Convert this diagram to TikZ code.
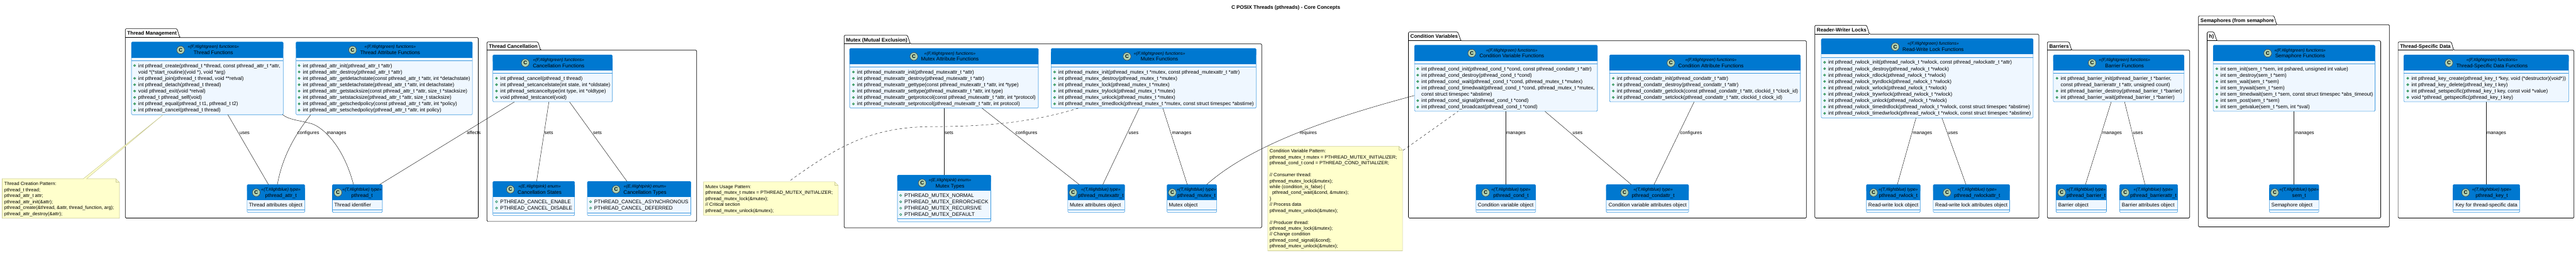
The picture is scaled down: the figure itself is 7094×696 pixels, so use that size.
\documentclass[tikz,border=0pt]{standalone}
\usepackage{fontspec}
\setmainfont{Liberation Sans}
\definecolor{headc}{HTML}{0078D0}
\definecolor{bodyc}{HTML}{EFF7FF}
\definecolor{linec}{HTML}{3F9AE0}
\definecolor{notef}{HTML}{FFFFCC}
\definecolor{noted}{HTML}{CCCC99}
\definecolor{circf}{HTML}{ADD1B2}
\definecolor{pubf}{HTML}{84BE84}
\definecolor{pubd}{HTML}{038048}
\definecolor{conn}{HTML}{181818}
\tikzset{
  pkgline/.style={draw=black,line width=1.2pt,rounded corners=2.5pt},
  pkgtitle/.style={anchor=base west,inner sep=0pt,outer sep=0pt,font=\fontsize{14}{16}\selectfont\bfseries},
  klassbox/.style={draw=linec,fill=bodyc,line width=1pt,rounded corners=2.5pt,inner sep=0pt,outer sep=0pt},
  stereo/.style={anchor=base,inner sep=0pt,outer sep=0pt,font=\fontsize{12}{14}\selectfont\itshape},
  ktitle/.style={anchor=base,inner sep=0pt,outer sep=0pt,font=\fontsize{14}{16}\selectfont},
  circ/.style={circle,draw=black!75,fill=circf,line width=1pt,minimum size=21.5pt,inner sep=0pt,outer sep=0pt,font=\fontsize{14}{16}\selectfont\bfseries},
  mtext/.style={anchor=base west,inner sep=0pt,outer sep=0pt,font=\fontsize{14}{16}\selectfont},
  ntext/.style={anchor=base west,inner sep=0pt,outer sep=0pt,font=\fontsize{13}{15}\selectfont},
  clabel/.style={anchor=base west,inner sep=0pt,outer sep=0pt,font=\fontsize{13}{15}\selectfont},
  rel/.style={draw=conn,line width=.8pt},
  reld/.style={draw=conn,line width=.8pt,dash pattern=on 7pt off 7pt},
  notebody/.style={draw=noted,fill=notef,line width=1pt},
  noteanchor/.style={inner sep=0pt,outer sep=0pt,anchor=north west},
}
\newcount\Mc
\newcommand{\pkg}[8]{% name x0 x1 ytop tabr tabe ybody ybot
  \draw[pkgline,fill=white] (#2,#7) -- (#2,#4) -- (#5,#4) -- (#6,#7) -- (#3,#7) -- (#3,#8) -- (#2,#8) -- cycle;
  \draw[draw=black,line width=1.2pt] (#2,#7) -- (#6,#7);
  \node[pkgtitle] (#1) at ({#2+5.5},{#4+17.5}) {\pkgname};
}
\newcommand{\klass}[9]{\def\Kn{#1}\def\Kxa{#2}\def\Kxb{#3}\def\Kya{#4}\def\Kyb{#5}\def\Kyd{#6}\def\Kcx{#7}\def\Ktx{#8}\def\Kk{#9}\klassB}
\newcommand{\klassB}[1]{%
  \pgfmathsetlengthmacro\Kw{\Kxb-\Kxa}\pgfmathsetlengthmacro\Kh{\Kyb-\Kya}%
  \node[klassbox,anchor=north west,minimum width=\Kw,minimum height=\Kh] (\Kn) at (\Kxa,\Kya) {};
  \fill[headc,rounded corners=2.5pt] (\Kxa,\Kya) rectangle (\Kxb,{\Kya+20});
  \fill[headc] (\Kxa,{\Kya+10}) rectangle (\Kxb,{\Kya+43.2});
  \draw[linec,line width=1pt] (\Kxa,\Kyd) -- (\Kxb,\Kyd);
  \node[circ] (\Kn-c) at (\Kcx,{\Kya+22.2}) {C};
  \node[stereo] (\Kn-s) at (\Ktx,{\Kya+17.8}) {\csname st\Kk\endcsname};
  \node[ktitle] (\Kn-t) at (\Ktx,{\Kya+34.7}) {#1};
}
\newcommand{\stF}{«(F,\#lightgreen) functions»}
\newcommand{\stT}{«(T,\#lightblue) type»}
\newcommand{\stE}{«(E,\#lightpink) enum»}
\newcommand{\mstart}[2]{\def\Mx{#1}\pgfmathsetmacro\My{#2+4.7}}
\newcommand{\mnext}{\pgfmathsetmacro\My{\My+17.55}}
\newcommand{\memb}[1]{\global\advance\Mc by 1
  \fill[pubf,draw=pubd,line width=.9pt] ({\Mx-10.3},{\My-5}) circle (2.9pt);
  \node[mtext] (m\the\Mc) at (\Mx,\My) {#1};\mnext}
\newcommand{\fld}[1]{\global\advance\Mc by 1
  \draw[pubd,line width=1pt] ({\Mx-10.3},{\My-5}) circle (2.9pt);
  \node[mtext] (m\the\Mc) at (\Mx,\My) {#1};\mnext}
\newcommand{\cont}[1]{\global\advance\Mc by 1
  \node[mtext] (m\the\Mc) at (\Mx,\My) {#1};\mnext}
\newcommand{\notebox}[5]{% name x0 x1 y0 y1
  \pgfmathsetlengthmacro\Kw{#3-#2}\pgfmathsetlengthmacro\Kh{#5-#4}%
  \draw[notebody] (#2,#4) -- ({#3-10},#4) -- (#3,{#4+10}) -- (#3,#5) -- (#2,#5) -- cycle;
  \draw[noted,line width=1pt] ({#3-10},#4) -- ({#3-10},{#4+10}) -- (#3,{#4+10});
  \node[noteanchor,minimum width=\Kw,minimum height=\Kh] (#1) at (#2,#4) {};
}
\newcommand{\nstart}[2]{\def\Mx{#1}\pgfmathsetmacro\My{#2+4.3}}
\newcommand{\nl}[1]{\global\advance\Mc by 1
  \node[ntext] (m\the\Mc) at (\Mx,\My) {#1};\pgfmathsetmacro\My{\My+16.34}}
\newcommand{\nskip}{\pgfmathsetmacro\My{\My+16.34}}
\newcommand{\clab}[3]{\global\advance\Mc by 1
  \node[clabel] (m\the\Mc) at (#1,369.5) {#3};}
\AtBeginDocument{\catcode`\_=12 \catcode`\&=12 }
\begin{document}
\begin{tikzpicture}[x=1pt,y=-1pt]
\useasboundingbox (0,0) rectangle (7094,696);
\fill[white] (0,0) rectangle (7094,696);
\node[anchor=base,inner sep=0pt,outer sep=0pt,font=\fontsize{14}{16}\selectfont\bfseries] (title) at (3541,25.4) {C POSIX Threads (pthreads) - Core Concepts};

% packages
\def\pkgname{Thread Management}\pkg{p1}{345}{1317}{79}{487.5}{495}{103.4}{600}
\def\pkgname{Thread Cancellation}\pkg{p2}{1341}{1918.5}{115.4}{1481.6}{1488.6}{138}{609.4}
\def\pkgname{Mutex (Mutual Exclusion)}\pkg{p3}{2324.5}{3474.5}{97}{2499}{2506.6}{120.7}{626.8}
\def\pkgname{Condition Variables}\pkg{p4}{3878.6}{4974.6}{88}{4014.8}{4023}{112.3}{600}
\def\pkgname{Reader-Writer Locks}\pkg{p5}{4997.9}{5614.8}{69.7}{5140.5}{5148}{94}{600}
\def\pkgname{Barriers}\pkg{p6}{5638}{6030}{115.4}{5697.9}{5705}{138}{600}
\def\pkgname{Semaphores (from semaphore}\pkg{p7}{6054.3}{6580}{43.5}{6262}{6269.7}{68}{624.5}
\def\pkgname{h)}\pkg{p8}{6078.2}{6556}{88}{6096.6}{6105}{112.3}{600}
\def\pkgname{Thread-Specific Data}\pkg{p9}{6604}{7088.4}{115.4}{6750.5}{6757}{138}{600}

% classes
\klass{tf}{362}{780}{115.4}{315.6}{166.5}{497.4}{587.7}{F}{Thread Functions}
\mstart{381}{180.7}
\memb{int pthread_create(pthread_t *thread, const pthread_attr_t *attr,}
\cont{void *(*start_routine)(void *), void *arg)}
\memb{int pthread_join(pthread_t thread, void **retval)}
\memb{int pthread_detach(pthread_t thread)}
\memb{void pthread_exit(void *retval)}
\memb{pthread_t pthread_self(void)}
\memb{int pthread_equal(pthread_t t1, pthread_t t2)}
\memb{int pthread_cancel(pthread_t thread)}

\klass{taf}{815}{1301}{115.4}{315.6}{166.5}{971}{1074.5}{F}{Thread Attribute Functions}
\mstart{834}{180.7}
\memb{int pthread_attr_init(pthread_attr_t *attr)}
\memb{int pthread_attr_destroy(pthread_attr_t *attr)}
\memb{int pthread_attr_getdetachstate(const pthread_attr_t *attr, int *detachstate)}
\memb{int pthread_attr_setdetachstate(pthread_attr_t *attr, int detachstate)}
\memb{int pthread_attr_getstacksize(const pthread_attr_t *attr, size_t *stacksize)}
\memb{int pthread_attr_setstacksize(pthread_attr_t *attr, size_t stacksize)}
\memb{int pthread_attr_getschedpolicy(const pthread_attr_t *attr, int *policy)}
\memb{int pthread_attr_setschedpolicy(pthread_attr_t *attr, int policy)}

\klass{pat}{680.4}{839.5}{507.8}{584.6}{576.6}{705.6}{773.7}{T}{pthread_attr_t}
\mstart{685.7}{564.6}\cont{Thread attributes object}
\klass{pt}{915.3}{1053}{507.8}{584.6}{576.6}{930.6}{997}{T}{pthread_t}
\mstart{920.6}{564.6}\cont{Thread identifier}

\klass{cf}{1357.3}{1686.4}{151}{280.5}{201.5}{1446.6}{1538.4}{F}{Cancellation Functions}
\mstart{1377.7}{215.7}
\memb{int pthread_cancel(pthread_t thread)}
\memb{int pthread_setcancelstate(int state, int *oldstate)}
\memb{int pthread_setcanceltype(int type, int *oldtype)}
\memb{void pthread_testcancel(void)}

\klass{cs}{1357.3}{1582.4}{499}{593.4}{585.5}{1405.7}{1486}{E}{Cancellation States}
\mstart{1377.7}{555.3}
\fld{PTHREAD_CANCEL_ENABLE}
\fld{PTHREAD_CANCEL_DISABLE}
\klass{cty}{1617.5}{1902.5}{499}{593.4}{585.5}{1696.6}{1776.3}{E}{Cancellation Types}
\mstart{1636.6}{555.3}
\fld{PTHREAD_CANCEL_ASYNCHRONOUS}
\fld{PTHREAD_CANCEL_DEFERRED}

\klass{maf}{2339.8}{2859.4}{133.2}{297.4}{184.2}{2516.6}{2616}{F}{Mutex Attribute Functions}
\mstart{2360.5}{198.4}
\memb{int pthread_mutexattr_init(pthread_mutexattr_t *attr)}
\memb{int pthread_mutexattr_destroy(pthread_mutexattr_t *attr)}
\memb{int pthread_mutexattr_gettype(const pthread_mutexattr_t *attr, int *type)}
\memb{int pthread_mutexattr_settype(pthread_mutexattr_t *attr, int type)}
\memb{int pthread_mutexattr_getprotocol(const pthread_mutexattr_t *attr, int *protocol)}
\memb{int pthread_mutexattr_setprotocol(pthread_mutexattr_t *attr, int protocol)}

\klass{mf}{2894.6}{3459.2}{133.2}{297.4}{184.2}{3103.6}{3193}{F}{Mutex Functions}
\mstart{2914.5}{198.4}
\memb{int pthread_mutex_init(pthread_mutex_t *mutex, const pthread_mutexattr_t *attr)}
\memb{int pthread_mutex_destroy(pthread_mutex_t *mutex)}
\memb{int pthread_mutex_lock(pthread_mutex_t *mutex)}
\memb{int pthread_mutex_trylock(pthread_mutex_t *mutex)}
\memb{int pthread_mutex_unlock(pthread_mutex_t *mutex)}
\memb{int pthread_mutex_timedlock(pthread_mutex_t *mutex, const struct timespec *abstime)}

\klass{mt}{2471.4}{2728.6}{481.6}{610.3}{602.3}{2539.5}{2616}{E}{Mutex Types}
\mstart{2490.6}{538}
\fld{PTHREAD_MUTEX_NORMAL}
\fld{PTHREAD_MUTEX_ERRORCHECK}
\fld{PTHREAD_MUTEX_RECURSIVE}
\fld{PTHREAD_MUTEX_DEFAULT}

\klass{mat}{2940.5}{3097.4}{507.8}{584.6}{576.6}{2955}{3031.6}{T}{pthread_mutexattr_t}
\mstart{2946}{564.6}\cont{Mutex attributes object}
\klass{mot}{3213.8}{3350.5}{507.8}{584.6}{576.6}{3228.3}{3295}{T}{pthread_mutex_t}
\mstart{3219}{564.6}\cont{Mutex object}

\klass{cvf}{3895.4}{4399}{124.3}{306.3}{175.3}{4053}{4163.3}{F}{Condition Variable Functions}
\mstart{3914.5}{189.5}
\memb{int pthread_cond_init(pthread_cond_t *cond, const pthread_condattr_t *attr)}
\memb{int pthread_cond_destroy(pthread_cond_t *cond)}
\memb{int pthread_cond_wait(pthread_cond_t *cond, pthread_mutex_t *mutex)}
\memb{int pthread_cond_timedwait(pthread_cond_t *cond, pthread_mutex_t *mutex,}
\cont{const struct timespec *abstime)}
\memb{int pthread_cond_signal(pthread_cond_t *cond)}
\memb{int pthread_cond_broadcast(pthread_cond_t *cond)}

\klass{caf}{4432.6}{4958}{151}{280.5}{201.5}{4601.5}{4711.8}{F}{Condition Attribute Functions}
\mstart{4453}{215.7}
\memb{int pthread_condattr_init(pthread_condattr_t *attr)}
\memb{int pthread_condattr_destroy(pthread_condattr_t *attr)}
\memb{int pthread_condattr_getclock(const pthread_condattr_t *attr, clockid_t *clock_id)}
\memb{int pthread_condattr_setclock(pthread_condattr_t *attr, clockid_t clock_id)}

\klass{cot}{4064.5}{4229}{507.8}{584.6}{576.6}{4091.3}{4161}{T}{pthread_cond_t}
\mstart{4069.9}{564.6}\cont{Condition variable object}
\klass{cat}{4423.3}{4650.4}{507.8}{584.6}{576.6}{4473.8}{4552.6}{T}{pthread_condattr_t}
\mstart{4429.9}{564.6}\cont{Condition variable attributes object}

\klass{rwf}{5015.3}{5599}{106.5}{324.5}{157.6}{5219.2}{5323.7}{F}{Read-Write Lock Functions}
\mstart{5035}{171.8}
\memb{int pthread_rwlock_init(pthread_rwlock_t *rwlock, const pthread_rwlockattr_t *attr)}
\memb{int pthread_rwlock_destroy(pthread_rwlock_t *rwlock)}
\memb{int pthread_rwlock_rdlock(pthread_rwlock_t *rwlock)}
\memb{int pthread_rwlock_tryrdlock(pthread_rwlock_t *rwlock)}
\memb{int pthread_rwlock_wrlock(pthread_rwlock_t *rwlock)}
\memb{int pthread_rwlock_trywrlock(pthread_rwlock_t *rwlock)}
\memb{int pthread_rwlock_unlock(pthread_rwlock_t *rwlock)}
\memb{int pthread_rwlock_timedrdlock(pthread_rwlock_t *rwlock, const struct timespec *abstime)}
\memb{int pthread_rwlock_timedwrlock(pthread_rwlock_t *rwlock, const struct timespec *abstime)}

\klass{rlt}{5139.6}{5288}{507.8}{584.6}{576.6}{5159.6}{5227.5}{T}{pthread_rwlock_t}
\mstart{5145.4}{564.6}\cont{Read-write lock object}
\klass{rat}{5323.7}{5534.3}{507.8}{584.6}{576.6}{5361.9}{5444.8}{T}{pthread_rwlockattr_t}
\mstart{5329.5}{564.6}\cont{Read-write lock attributes object}

\klass{bf}{5654.6}{6014.7}{151}{280.5}{201.5}{5761.4}{5850.8}{F}{Barrier Functions}
\mstart{5674.9}{215.7}
\memb{int pthread_barrier_init(pthread_barrier_t *barrier,}
\cont{const pthread_barrierattr_t *attr, unsigned count)}
\memb{int pthread_barrier_destroy(pthread_barrier_t *barrier)}
\memb{int pthread_barrier_wait(pthread_barrier_t *barrier)}

\klass{bt}{5662}{5801}{507.8}{584.6}{576.6}{5677.6}{5744.9}{T}{pthread_barrier_t}
\mstart{5668.4}{564.6}\cont{Barrier object}
\klass{bat}{5837}{5997}{507.8}{584.6}{576.6}{5852.6}{5930}{T}{pthread_barrierattr_t}
\mstart{5843.4}{564.6}\cont{Barrier attributes object}

\klass{sf}{6094.8}{6540.5}{124.3}{306.3}{175.3}{6244.9}{6334.2}{F}{Semaphore Functions}
\mstart{6115}{189.5}
\memb{int sem_init(sem_t *sem, int pshared, unsigned int value)}
\memb{int sem_destroy(sem_t *sem)}
\memb{int sem_wait(sem_t *sem)}
\memb{int sem_trywait(sem_t *sem)}
\memb{int sem_timedwait(sem_t *sem, const struct timespec *abs_timeout)}
\memb{int sem_post(sem_t *sem)}
\memb{int sem_getvalue(sem_t *sem, int *sval)}

\klass{st}{6249.5}{6385.8}{507.8}{584.6}{576.6}{6264.2}{6331.4}{T}{sem_t}
\mstart{6255}{564.6}\cont{Semaphore object}

\klass{tsf}{6619.7}{7073.7}{151}{280.5}{201.5}{6744}{6862.8}{F}{Thread-Specific Data Functions}
\mstart{6640.9}{215.7}
\memb{int pthread_key_create(pthread_key_t *key, void (*destructor)(void*))}
\memb{int pthread_key_delete(pthread_key_t key)}
\memb{int pthread_setspecific(pthread_key_t key, const void *value)}
\memb{void *pthread_getspecific(pthread_key_t key)}

\klass{kt}{6755}{6939}{507.8}{584.6}{576.6}{6790}{6862}{T}{pthread_key_t}
\mstart{6762.4}{564.6}\cont{Key for thread-specific data}

% notes
\notebox{n1}{6}{329}{491.8}{600.5}
\notebox{n2}{1937.6}{2308.4}{500.2}{592.6}
\notebox{n3}{3491.3}{3862.5}{402.6}{690.2}

% note tail
\draw[notebody] ([xshift=223.6pt]n1.north west) -- ([xshift=87.2pt]tf.south west) -- ([xshift=232.8pt]n1.north west);
\draw[notef,line width=1.4pt] ([xshift=224.4pt]n1.north west) -- ([xshift=232pt]n1.north west);

\nstart{12}{506.5}
\nl{Thread Creation Pattern:}
\nl{pthread_t thread;}
\nl{pthread_attr_t attr;}
\nl{pthread_attr_init(&attr);}
\nl{pthread_create(&thread, &attr, thread_function, arg);}
\nl{pthread_attr_destroy(&attr);}

\nstart{1942.7}{514.5}
\nl{Mutex Usage Pattern:}
\nl{pthread_mutex_t mutex = PTHREAD_MUTEX_INITIALIZER;}
\nl{pthread_mutex_lock(&mutex);}
\nl{// Critical section}
\nl{pthread_mutex_unlock(&mutex);}

\nstart{3496.7}{416.3}
\nl{Condition Variable Pattern:}
\nl{pthread_mutex_t mutex = PTHREAD_MUTEX_INITIALIZER;}
\nl{pthread_cond_t cond = PTHREAD_COND_INITIALIZER;}
\nskip
\nl{// Consumer thread:}
\nl{pthread_mutex_lock(&mutex);}
\nl{while (condition_is_false) \{}
\nl{\hspace{7pt}pthread_cond_wait(&cond, &mutex);}
\nl{\}}
\nl{// Process data}
\nl{pthread_mutex_unlock(&mutex);}
\nskip
\nl{// Producer thread:}
\nl{pthread_mutex_lock(&mutex);}
\nl{// Change condition}
\nl{pthread_cond_signal(&cond);}
\nl{pthread_mutex_unlock(&mutex);}

% connectors
\draw[rel] ([xshift=265.5pt]tf.south west) -- ([xshift=58.9pt]pat.north west);
\draw[rel] ([xshift=40.6pt]taf.south west) .. controls (812,372) and (778,430) .. ([xshift=83.4pt]pat.north west);
\draw[rel] ([xshift=416.3pt]tf.south west) .. controls (795,330) and (830,332) .. (860,341) .. controls (890,352) and (945,400) .. ([xshift=58.2pt]pt.north west);
\draw[rel] ([xshift=59.3pt]cf.south west) -- ([xshift=130.1pt]pt.north west);
\draw[rel] ([xshift=154.3pt]cf.south west) -- ([xshift=120.5pt]cs.north west);
\draw[rel] ([xshift=211.1pt]cf.south west) -- ([xshift=109pt]cty.north west);
\draw[rel] ([xshift=259.4pt]maf.south west) -- ([xshift=127.8pt]mt.north west);
\draw[rel] ([xshift=364.2pt]maf.south west) -- ([xshift=31.5pt]mat.north west);
\draw[rel] ([xshift=242.6pt]mf.south west) -- ([xshift=96.5pt]mat.north west);
\draw[rel] ([xshift=307.7pt]mf.south west) -- ([xshift=55.8pt]mot.north west);
\draw[rel] ([yshift=-138.5pt]cvf.north west) .. controls (3680,320) and (3450,395) .. ([xshift=109.2pt]mot.north west);
\draw[rel] ([xshift=251pt]cvf.south west) -- ([xshift=81.9pt]cot.north west);
\draw[rel] ([xshift=358.9pt]cvf.south west) -- ([xshift=69pt]cat.north west);
\draw[rel] ([xshift=232.7pt]caf.south west) -- ([xshift=131.7pt]cat.north west);
\draw[rel] ([xshift=261.2pt]rwf.south west) -- ([xshift=85.4pt]rlt.north west);
\draw[rel] ([xshift=332.5pt]rwf.south west) -- ([xshift=90.3pt]rat.north west);
\draw[rel] ([xshift=159.4pt]bf.south west) -- ([xshift=81pt]bt.north west);
\draw[rel] ([xshift=196.2pt]bf.south west) -- ([xshift=70pt]bat.north west);
\draw[rel] ([xshift=221.9pt]sf.south west) -- ([xshift=67.2pt]st.north west);
\draw[rel] ([xshift=227.3pt]tsf.south west) -- ([xshift=92pt]kt.north west);
\draw[reld] ([xshift=239.2pt,yshift=3.9pt]n2.north west) .. controls (2240,450) and (2290,420) .. (2322,404) .. controls (2400,365) and (2470,350) .. (2560,348.4) .. controls (2720,349) and (2850,335) .. ([xshift=75.8pt]mf.south west);
\draw[reld] ([xshift=1.5pt,yshift=-11.1pt]n3.north east) -- ([xshift=120.2pt]cvf.south west);

% connector labels
\clab{660}{}{uses}
\clab{819}{}{configures}
\clab{900}{}{manages}
\clab{1285.8}{}{affects}
\clab{1499.5}{}{sets}
\clab{1633.4}{}{sets}
\clab{2601.5}{}{sets}
\clab{2796.7}{}{configures}
\clab{3108}{}{uses}
\clab{3227.5}{}{manages}
\clab{3579.3}{}{requires}
\clab{4148}{}{manages}
\clab{4330.8}{}{uses}
\clab{4627.2}{}{configures}
\clab{5267.4}{}{manages}
\clab{5364.4}{}{uses}
\clab{5790}{}{manages}
\clab{5873.8}{}{uses}
\clab{6319.5}{}{manages}
\clab{6848}{}{manages}
\end{tikzpicture}
\end{document}
